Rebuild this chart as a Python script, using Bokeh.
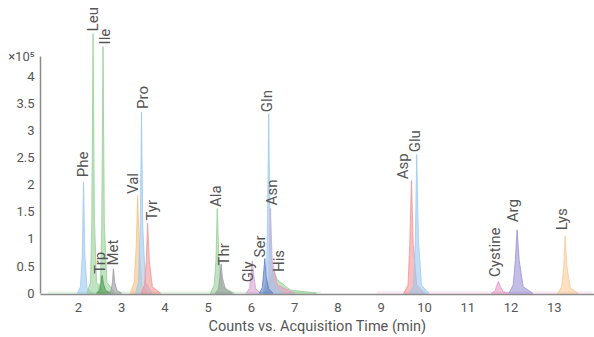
from bokeh.plotting import figure
from bokeh.models import Range1d, FixedTicker, ColumnDataSource
from bokeh.embed import file_html
from bokeh.resources import INLINE
from math import pi

# ---------------- data (time in min, counts in 1e5) ----------------
phe_t = [1.98, 2.05, 2.09, 2.12, 2.15, 2.20, 2.32]
phe_y = [0, 0.12, 0.70, 2.05, 0.70, 0.10, 0]
leu_t = [2.20, 2.28, 2.31, 2.34, 2.37, 2.42, 2.60]
leu_y = [0, 0.20, 1.30, 4.79, 1.40, 0.20, 0]
ile_t = [2.44, 2.51, 2.54, 2.57, 2.60, 2.66, 2.85]
ile_y = [0, 0.20, 1.20, 4.55, 1.30, 0.20, 0]
trp_t = [2.42, 2.49, 2.52, 2.55, 2.58, 2.63, 2.75]
trp_y = [0, 0.05, 0.17, 0.33, 0.17, 0.05, 0]
met_t = [2.70, 2.76, 2.79, 2.81, 2.84, 2.89, 3.00]
met_y = [0, 0.06, 0.22, 0.45, 0.20, 0.05, 0]
val_t = [3.20, 3.29, 3.34, 3.37, 3.41, 3.47, 3.60]
val_y = [0, 0.20, 0.90, 1.80, 0.80, 0.15, 0]
pro_t = [3.32, 3.39, 3.43, 3.46, 3.49, 3.55, 3.70]
pro_y = [0, 0.20, 1.20, 3.34, 1.20, 0.20, 0]
tyr_t = [3.45, 3.53, 3.57, 3.60, 3.64, 3.71, 3.90]
tyr_y = [0, 0.15, 0.60, 1.29, 0.60, 0.12, 0]
ala_t = [5.05, 5.14, 5.18, 5.21, 5.25, 5.33, 5.60]
ala_y = [0, 0.15, 0.60, 1.56, 0.60, 0.12, 0]
thr_t = [5.17, 5.24, 5.27, 5.30, 5.33, 5.40, 5.55]
thr_y = [0, 0.08, 0.30, 0.54, 0.28, 0.07, 0]
gly_t = [5.88, 5.96, 5.99, 6.02, 6.05, 6.10, 6.20]
gly_y = [0, 0.10, 0.35, 0.60, 0.35, 0.08, 0]
his_t = [6.30, 6.40, 6.45, 6.50, 6.60, 6.90, 7.50]
his_y = [0, 0.10, 0.30, 0.45, 0.25, 0.06, 0]
ser_t = [6.18, 6.25, 6.28, 6.31, 6.34, 6.40, 6.50]
ser_y = [0, 0.10, 0.35, 0.64, 0.30, 0.08, 0]
gln_t = [6.27, 6.34, 6.37, 6.40, 6.43, 6.50, 6.70]
gln_y = [0, 0.20, 1.10, 3.31, 1.10, 0.20, 0]
asn_t = [6.30, 6.38, 6.41, 6.44, 6.48, 6.60, 7.00]
asn_y = [0, 0.15, 0.60, 1.56, 0.60, 0.15, 0]
asp_t = [9.52, 9.62, 9.66, 9.70, 9.74, 9.82, 10.00]
asp_y = [0, 0.15, 0.90, 2.08, 0.90, 0.15, 0]
glu_t = [9.66, 9.75, 9.79, 9.82, 9.86, 9.93, 10.10]
glu_y = [0, 0.15, 1.00, 2.56, 1.00, 0.15, 0]
cys_t = [11.55, 11.63, 11.67, 11.71, 11.75, 11.82, 11.95]
cys_y = [0, 0.04, 0.14, 0.22, 0.13, 0.03, 0]
arg_t = [11.95, 12.05, 12.10, 12.14, 12.19, 12.28, 12.50]
arg_y = [0, 0.15, 0.60, 1.17, 0.60, 0.12, 0]
lys_t = [13.08, 13.17, 13.22, 13.25, 13.29, 13.37, 13.55]
lys_y = [0, 0.12, 0.50, 1.06, 0.50, 0.10, 0]

# faint baselines
base1_t = [1.30, 7.60]
base1_y = [0.015, 0.015]
base2_t = [8.90, 13.90]
base2_y = [0.015, 0.015]

label_names = ["Phe", "Leu", "Ile", "Trp", "Met", "Val", "Pro", "Tyr", "Ala", "Thr",
               "Gly", "Ser", "Gln", "Asn", "His", "Asp", "Glu", "Cystine", "Arg", "Lys"]
label_t = [2.11, 2.34, 2.62, 2.51, 2.80, 3.26, 3.49, 3.70, 5.19, 5.36,
           5.93, 6.20, 6.36, 6.47, 6.63, 9.51, 9.78, 11.63, 12.04, 13.17]
label_y = [2.14, 4.83, 4.59, 0.36, 0.51, 1.83, 3.40, 1.34, 1.59, 0.51,
           0.20, 0.66, 3.34, 1.62, 0.39, 2.10, 2.60, 0.30, 1.31, 1.16]

y_ticks = [0, 0.5, 1, 1.5, 2, 2.5, 3, 3.5, 4, 4.36]
y_tick_labels = ["0", "0.5", "1", "1.5", "2", "2.5", "3", "3.5", "4", "×10⁵"]
x_ticks = [2, 3, 4, 5, 6, 7, 8, 9, 10, 11, 12, 13]

# ---------------- styles ----------------
BLUE = "#9cc9ef"
GREEN = "#97d097"
DGREEN = "#4f9a50"
GRAY = "#9a9aa0"
ORANGE = "#f7c184"
RED = "#f29494"
VIOLET = "#d7a0d4"
SLATE = "#5f7fc0"
PINK = "#e79ac5"
PURPLE = "#9a92d6"
PEACH = "#f9cc98"

peaks = [
    (his_t, his_y, GREEN), (asn_t, asn_y, PINK),
    (phe_t, phe_y, BLUE), (leu_t, leu_y, GREEN), (ile_t, ile_y, GREEN),
    (trp_t, trp_y, DGREEN), (met_t, met_y, GRAY), (val_t, val_y, ORANGE),
    (pro_t, pro_y, BLUE), (tyr_t, tyr_y, RED), (ala_t, ala_y, GREEN),
    (thr_t, thr_y, GRAY), (gly_t, gly_y, VIOLET), (gln_t, gln_y, BLUE),
    (ser_t, ser_y, SLATE), (asp_t, asp_y, RED), (glu_t, glu_y, BLUE),
    (cys_t, cys_y, PINK), (arg_t, arg_y, PURPLE), (lys_t, lys_y, PEACH),
]

FONT = "Roboto"
TXT = "#555555"
AX = "#8a8a8a"

p = figure(width=594, height=337, output_backend="svg", toolbar_location=None,
           x_range=Range1d(1.125, 13.93), y_range=Range1d(-0.024, 5.40),
           min_border_left=40, min_border_right=0, min_border_top=0, min_border_bottom=43)
p.outline_line_color = None
p.grid.visible = False
p.background_fill_color = "white"

p.line(base1_t, base1_y, line_color=GREEN, line_alpha=0.3, line_width=2)
p.line(base2_t, base2_y, line_color=PINK, line_alpha=0.25, line_width=2)

for t, y, c in peaks:
    p.patch(t, y, fill_color=c, fill_alpha=0.6, line_color=c, line_alpha=0.8, line_width=1)

src = ColumnDataSource(dict(x=label_t, y=label_y, text=label_names))
p.text(x="x", y="y", text="text", source=src, angle=pi / 2, text_align="left",
       text_baseline="middle", text_font_size="15px", text_color=TXT,
       text_font={"value": FONT})

# axes
xa = p.xaxis[0]
xa.ticker = FixedTicker(ticks=x_ticks)
xa.axis_label = "Counts vs. Acquisition Time (min)"
ya = p.yaxis[0]
ya.ticker = FixedTicker(ticks=y_ticks)
ya.major_label_overrides = {t: s for t, s in zip(y_ticks, y_tick_labels)}
ya.bounds = (0, 4.36)
for a in (xa, ya):
    a.axis_line_color = AX
    a.axis_line_width = 1.5
    a.major_tick_line_color = None
    a.major_tick_out = 0
    a.major_tick_in = 0
    a.minor_tick_line_color = None
    a.minor_tick_out = 0
    a.minor_tick_in = 0
    a.major_label_text_font = FONT
    a.major_label_text_font_size = "13px"
    a.major_label_text_color = TXT
    a.axis_label_text_font = FONT
    a.axis_label_text_font_size = "14.5px"
    a.axis_label_text_font_style = "normal"
    a.axis_label_text_color = TXT
xa.major_label_standoff = 8
xa.axis_label_standoff = 3
ya.major_label_standoff = 6

open("out.html", "w").write(file_html(p, INLINE))
